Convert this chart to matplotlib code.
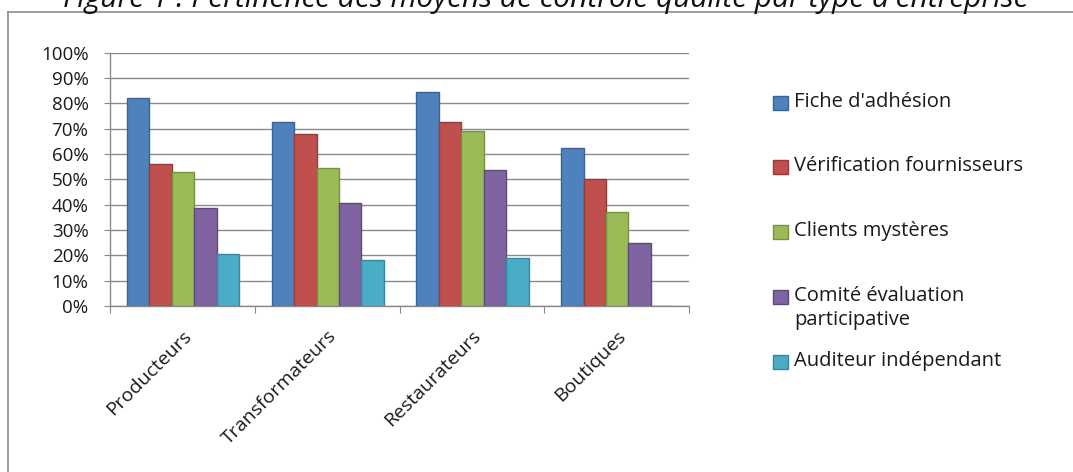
import matplotlib.pyplot as plt
from matplotlib.lines import Line2D
from matplotlib.patches import Rectangle
from matplotlib.ticker import FixedLocator, PercentFormatter

plt.rcParams['font.family'] = ['Open Sans', 'DejaVu Sans']

categories = ["Producteurs", "Transformateurs", "Restaurateurs", "Boutiques"]
series_names = ["Fiche d'adhésion", "Vérification fournisseurs", "Clients mystères",
                "Comité évaluation\nparticipative", "Auditeur indépendant"]
fiche = [0.82, 0.727, 0.845, 0.623]
verification = [0.56, 0.68, 0.727, 0.50]
clients = [0.53, 0.545, 0.69, 0.373]
comite = [0.386, 0.407, 0.535, 0.25]
auditeur = [0.207, 0.182, 0.19, 0.0]
y_ticks = [i / 10 for i in range(11)]

colors = ["#4F81BD", "#C0504D", "#9BBB59", "#8064A2", "#4BACC6"]
edges = ["#3A6396", "#953B39", "#77933C", "#5F4B7A", "#35889F"]

W, H = 1073, 472
fig = plt.figure(figsize=(W / 100, H / 100), dpi=100)
ax = fig.add_axes([110 / W, 1 - 306 / H, (689 - 110) / W, (306 - 52.7) / H])

series = [fiche, verification, clients, comite, auditeur]
bw = 0.155
for k, vals in enumerate(series):
    xs = [i + 0.117 + bw * (k + 0.5) for i in range(len(categories))]
    ax.bar(xs, vals, width=bw, color=colors[k], edgecolor=edges[k], linewidth=1, zorder=3)

ax.set_xlim(0, len(categories))
ax.set_ylim(0, 1)
ax.yaxis.set_major_locator(FixedLocator(y_ticks))
ax.yaxis.set_major_formatter(PercentFormatter(1.0, decimals=0))
ax.grid(axis='y', color='#8a8a8a', linewidth=1, zorder=0)

ax.set_xticks(range(len(categories) + 1))
ax.set_xticklabels([])
ax.set_xticks([i + 0.5 for i in range(len(categories))], minor=True)
ax.set_xticklabels(categories, minor=True, rotation=45, ha='right', va='top',
                   rotation_mode='anchor', fontsize=14, color='#1a1a1a')
ax.tick_params(axis='x', which='minor', length=0, pad=15)
ax.tick_params(axis='x', which='major', length=5, color='#8a8a8a', direction='out')
ax.tick_params(axis='y', length=4.5, color='#8a8a8a', labelsize=13.5, labelcolor='#1a1a1a', pad=11)

for s in ['top', 'right']:
    ax.spines[s].set_visible(False)
for s in ['left', 'bottom']:
    ax.spines[s].set_color('#8a8a8a')
    ax.spines[s].set_linewidth(1)

# legend drawn by hand so the two-line entry keeps its swatch on the first line
leg_rows = [102.7, 166.7, 232, 297, 361.7]
for k, name in enumerate(series_names):
    yc = 1 - leg_rows[k] / H
    fig.add_artist(Rectangle((773 / W, yc - 7 / H), 15 / W, 14 / H,
                             transform=fig.transFigure, facecolor=colors[k],
                             edgecolor=edges[k], linewidth=1))
    fig.text(794 / W, yc + 11 / H, name, ha='left', va='top', fontsize=14.5,
             color='#1a1a1a', linespacing=1.3)

# chart frame (bottom and right edges fall outside the image)
fig.add_artist(Line2D([8 / W, 8 / W], [0, 1 - 12 / H], transform=fig.transFigure,
                      color='#8c8c8c', linewidth=1.2))
fig.add_artist(Line2D([8 / W, 1], [1 - 12 / H, 1 - 12 / H], transform=fig.transFigure,
                      color='#8c8c8c', linewidth=1.2))

fig.text(546 / W, 1 - 7 / H,
         "Figure 1 : Pertinence des moyens de contrôle qualité par type d'entreprise",
         ha='center', va='baseline', fontsize=21.5, style='italic', color='#111111')

fig.savefig("out.png", dpi=100)
